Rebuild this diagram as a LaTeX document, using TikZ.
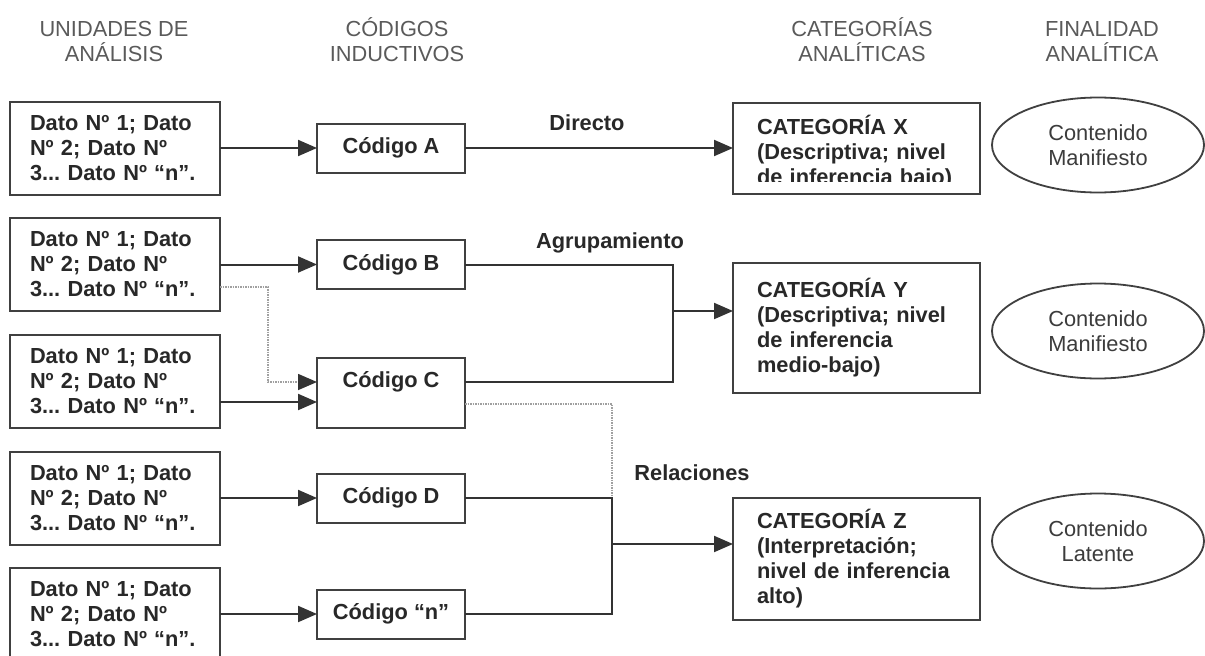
\documentclass[tikz,border=0pt]{standalone}
\usepackage{fontspec}
\setmainfont{Liberation Sans}
\usetikzlibrary{arrows.meta,shapes.geometric}
\definecolor{linec}{HTML}{333333}
\definecolor{boxc}{HTML}{404040}
\definecolor{textc}{HTML}{282828}
\definecolor{headc}{HTML}{5A5A5A}
\definecolor{ellc}{HTML}{3C3C3C}
\definecolor{dotc}{HTML}{A0A0A0}
\frenchspacing
\begin{document}
\begin{tikzpicture}[x=1pt,y=-1pt,
  every node/.style={inner sep=0pt, outer sep=0pt, text=textc},
  bfont/.style={font=\fontsize{21.8}{25}\selectfont\bfseries\frenchspacing},
  rfont/.style={font=\fontsize{21.8}{25}\selectfont\frenchspacing},
  header/.style={rfont, text=headc, anchor=base},
  edgelabel/.style={bfont, anchor=base},
  databox/.style={draw=boxc, line width=2pt, minimum width=210pt, minimum height=93pt, text width=170pt, align=left, bfont},
  codebox/.style={draw=boxc, line width=2pt, minimum width=148pt, minimum height=49pt, align=center, bfont},
  catbox/.style={draw=boxc, line width=2pt, minimum width=247pt, text width=199pt, align=left, bfont},
  cattext/.style={text width=199pt, align=left, bfont},
  goal/.style={draw=boxc, line width=1.8pt, ellipse, minimum width=212pt, minimum height=95pt, align=center, rfont, text=ellc},
  line/.style={draw=linec, line width=2pt},
  arrow/.style={draw=linec, line width=2pt, -{Triangle[length=19pt,width=16pt]}},
  dotline/.style={draw=dotc, line width=1.6pt, dash pattern=on 1.5pt off 1pt},
  dotarrow/.style={dotline, -{Triangle[length=19pt,width=16pt,color=linec,fill=linec]}}
]
\fill[white] (0,0) rectangle (1205,656);
\path[use as bounding box] (0,0) rectangle (1205,656);

% headers
\node[header] (h1a) at (114,36) {UNIDADES DE};
\node[header] (h1b) at (114,61) {ANÁLISIS};
\node[header] (h2a) at (397,36) {CÓDIGOS};
\node[header] (h2b) at (397,61) {INDUCTIVOS};
\node[header] (h3a) at (862,36) {CATEGORÍAS};
\node[header] (h3b) at (862,61) {ANALÍTICAS};
\node[header] (h4a) at (1102,36) {FINALIDAD};
\node[header] (h4b) at (1102,61) {ANALÍTICA};

% data boxes
\node[databox] (d1) at (115,148) {Dato Nº 1; Dato\\Nº 2; Dato Nº\\3... Dato Nº “n”.};
\node[databox] (d2) at (115,264.5) {Dato Nº 1; Dato\\Nº 2; Dato Nº\\3... Dato Nº “n”.};
\node[databox] (d3) at (115,381) {Dato Nº 1; Dato\\Nº 2; Dato Nº\\3... Dato Nº “n”.};
\node[databox] (d4) at (115,498) {Dato Nº 1; Dato\\Nº 2; Dato Nº\\3... Dato Nº “n”.};
\node[databox] (d5) at (115,614) {Dato Nº 1; Dato\\Nº 2; Dato Nº\\3... Dato Nº “n”.};

% code boxes
\node[codebox] (ca) at (391,148) {Código A};
\node[codebox] (cb) at (391,264.5) {Código B};
\node[codebox, minimum height=70pt] (cc) at (391,393) {};
\node[bfont] (ccl) at (391,382) {Código C};
\node[codebox] (cd) at (391,498) {Código D};
\node[codebox] (cn) at (391,614) {Código “n”};

% category boxes
\node[catbox, minimum height=91pt] (cx) at (856.5,148) {};
\begin{scope}
  \clip (cx.north west) rectangle ([yshift=12pt]cx.south east);
  \node[cattext] (cxt) at (856.5,152) {CATEGORÍA X\\(Descriptiva; nivel\\de inferencia bajo)};
\end{scope}
\node[catbox, minimum height=130pt] (cy) at (856.5,328) {CATEGORÍA Y\\(Descriptiva; nivel\\de inferencia\\medio-bajo)};
\node[catbox, minimum height=122pt] (cz) at (856.5,559) {CATEGORÍA Z\\(Interpretación;\\nivel de inferencia\\alto)};

% goals
\node[goal] (e1) at (1098,145) {Contenido\\Manifiesto};
\node[goal] (e2) at (1098,331) {Contenido\\Manifiesto};
\node[goal] (e3) at (1098,541) {Contenido\\Latente};

% edge labels
\node[edgelabel] (l1) at (587,130) {Directo};
\node[edgelabel] (l2) at (610,248) {Agrupamiento};
\node[edgelabel] (l3) at (692,480) {Relaciones};

% junctions
\coordinate (jy) at (673,311);
\coordinate (jz) at (612,544);
\coordinate (dk) at (268,382);

% data -> codes
\draw[arrow] (d1.east) -- (ca.west);
\draw[arrow] (d2.east) -- (cb.west);
\draw[dotarrow] ([yshift=-22.5pt]d2.east) -| (dk) -- (cc.west |- dk);
\draw[arrow] ([yshift=-21pt]d3.east) -- ([yshift=-21pt]d3.east -| cc.west);
\draw[arrow] (d4.east) -- (cd.west);
\draw[arrow] (d5.east) -- (cn.west);

% codes -> categories
\draw[arrow] (ca.east) -- (cx.west);
\draw[line] (cb.east) -| (jy) |- (cc.east |- ccl.center);
\draw[arrow] (jy) -- (cy.west |- jy);
\draw[dotline] ([yshift=-11pt]cc.east) -| (cd.east -| jz);
\draw[line] (cd.east) -| (jz) |- (cn.east);
\draw[arrow] (jz) -- (cz.west |- jz);
\end{tikzpicture}
\end{document}
